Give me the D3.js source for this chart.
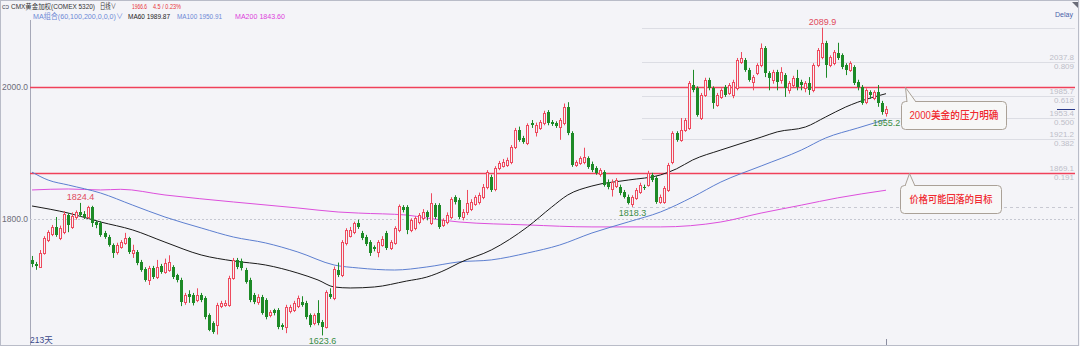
<!DOCTYPE html>
<html>
<head>
<meta charset="utf-8">
<script src="https://cdn.jsdelivr.net/npm/d3@7"></script>
<style>
  html, body { margin: 0; padding: 0; background: #f4f4f8; }
  svg { display: block; }
  text { font-family: "Liberation Sans", "Noto Sans CJK SC", sans-serif; }
  .hdr text { font-family: "Liberation Sans Narrow", "Liberation Sans", "Noto Sans CJK SC", sans-serif; }
</style>
</head>
<body>
<svg id="chart" width="1080" height="346"></svg>
<script>
// daily OHLC, 213 sessions
const opens = [
  1738,1732,1727,1749,1768,1778,1788,1771,1780,1806, 1788,1803,1811,1808,1803,1818,1796,1794,1779,1773,
  1761,1750,1758,1764,1771,1749,1750,1735,1724,1708, 1726,1712,1729,1720,1722,1727,1715,1708,1674,1686,
  1685,1677,1685,1680,1654,1642,1639,1668,1670,1670, 1711,1738,1736,1723,1708,1685,1674,1682,1677,1655,
  1662,1662,1639,1636,1660,1662,1668,1674,1673,1654, 1642,1657,1644,1637,1686,1680,1722,1715,1763,1775,
  1780,1794,1779,1773,1765,1757,1750,1761,1779,1756, 1764,1783,1818,1818,1783,1786,1795,1801,1810,1794,
  1821,1821,1791,1795,1803,1833,1829,1803,1810,1815, 1823,1826,1834,1848,1864,1845,1877,1881,1882,1886,
  1909,1935,1923,1915,1945,1932,1938,1945,1962,1947, 1945,1939,1945,1970,1930,1882,1885,1886,1892,1884,
  1877,1868,1871,1856,1845,1850,1849,1841,1834,1822, 1832,1841,1849,1852,1867,1862,1826,1826,1844,1886,
  1930,1920,1935,1938,2003,1998,1953,1988,2011,1998, 1973,1985,2000,1991,1988,1998,2038,2041,2026,2008,
  2021,2033,2059,2021,2011,2023,2010,2018,1995,2003, 2014,2008,1998,2006,1995,2033,2045,2067,2033,2036,
  2051,2048,2033,2026,2030,2008,2000,1977,1992,1983, 1992,1976,1960
];
const highs = [
  1744,1735,1753,1774,1783,1791,1803,1790,1812,1809, 1810,1813,1824.4,1812,1820,1820,1798,1797,1782,1776,
  1763,1764,1768,1779,1773,1761,1753,1738,1727,1729, 1729,1738,1732,1740,1745,1730,1717,1711,1688,1692,
  1688,1695,1688,1683,1657,1645,1673,1676,1677,1714, 1741,1741,1740,1726,1711,1688,1686,1685,1680,1662,
  1664,1665,1642,1670,1670,1676,1684,1683,1676,1657, 1657,1677,1647,1692,1695,1728,1734,1768,1786,1788,
  1796,1799,1782,1776,1768,1760,1768,1774,1782,1768, 1789,1822,1821,1821,1801,1804,1809,1815,1813,1839,
  1824,1824,1801,1810,1833,1836,1832,1815,1844,1830, 1836,1840,1853,1874,1867,1880,1888,1891,1893,1912,
  1938,1940,1926,1945,1950,1946,1950,1964,1965,1950, 1948,1953,1975,1977,1933,1889,1895,1908,1895,1887,
  1880,1877,1874,1860,1860,1862,1852,1844,1837,1836, 1847,1855,1852,1873,1870,1865,1837,1850,1885,1933,
  1933,1953,1953,2009,2026,2001,1991,2014,2014,2001, 1991,1998,2003,2006,2011,2044,2053,2044,2029,2018,
  2036,2066,2062,2024,2026,2026,2030,2021,2009,2017, 2026,2011,2009,2015,2036,2059,2089.9,2070,2048,2056,
  2067,2051,2036,2039,2033,2011,2003,1998,1995,1995, 2003,1979,1971
];
const lows = [
  1727,1723,1726,1746,1765,1774,1773,1768,1777,1780, 1785,1799,1803,1800,1800,1788,1786,1773,1770,1758,
  1741,1746,1755,1761,1747,1741,1730,1720,1705,1700, 1709,1709,1717,1717,1720,1709,1704,1668,1670,1673,
  1669,1674,1674,1648,1630,1626,1625,1665,1667,1667, 1708,1724,1722,1702,1674,1671,1670,1655,1648,1651,
  1654,1633,1632,1627,1657,1659,1665,1667,1648,1636, 1639,1639,1623.6,1634,1679,1677,1712,1712,1760,1772,
  1777,1785,1768,1759,1744,1751,1742,1758,1753,1753, 1761,1780,1810,1777,1780,1783,1792,1798,1798,1791,
  1800,1785,1788,1792,1800,1822,1800,1798,1806,1812, 1820,1822,1830,1845,1841,1842,1874,1878,1879,1883,
  1906,1917,1914,1912,1938,1925,1935,1942,1942,1941, 1938,1920,1942,1927,1879,1879,1882,1883,1876,1871,
  1867,1864,1849,1845,1834,1847,1836,1831,1822,1818.3, 1829,1838,1844,1849,1856,1823,1823,1823,1841,1883,
  1917,1917,1932,1935,1992,1955,1950,1985,1995,1967, 1970,1982,1985,1988,1983,1995,2035,2023,2008,1995,
  2018,2030,2015,1995,2005,1995,2005,1985,1990,2000, 1995,1995,1992,1988,1992,2030,2042,2014,2030,2033,
  2041,2027,2018,2023,2003,1995,1973,1974,1982,1980, 1970,1958,1955.2
];
const closes = [
  1732,1729,1749,1771,1780,1788,1776,1786,1808,1791, 1805,1810,1806,1803,1818,1794,1791,1776,1773,1761,
  1749,1761,1765,1771,1750,1753,1733,1723,1708,1726, 1712,1727,1720,1733,1735,1712,1708,1674,1685,1682,
  1673,1685,1677,1651,1632,1629,1670,1673,1673,1711, 1738,1727,1726,1705,1677,1674,1682,1658,1651,1659,
  1658,1636,1636,1667,1667,1673,1680,1670,1651,1639, 1654,1642,1636,1689,1682,1725,1715,1765,1783,1783,
  1794,1788,1771,1762,1748,1754,1765,1770,1756,1765, 1786,1819,1814,1783,1798,1801,1806,1810,1803,1824,
  1803,1788,1798,1806,1830,1826,1803,1811,1824,1826, 1833,1836,1849,1871,1844,1877,1885,1886,1889,1909,
  1935,1920,1917,1942,1942,1942,1947,1961,1945,1944, 1941,1950,1970,1930,1882,1886,1892,1894,1879,1874,
  1870,1874,1852,1848,1856,1859,1840,1834,1825,1833, 1844,1851,1847,1870,1859,1826,1833,1847,1882,1930,
  1920,1935,1950,2006,1995,1958,1988,2011,1998,1976, 1988,1995,1988,2003,2008,2041,2044,2026,2011,2015,
  2033,2059,2021,2014,2023,2008,2022,1999,2006,2014, 2000,2003,2006,1995,2033,2056,2067,2033,2045,2053,
  2044,2030,2026,2036,2006,2000,1976,1995,1988,1992, 1976,1962.1,1966.6
];

// moving averages: [session index, value]
const ma60 = [[0,1819.7],[9,1809],[17,1795.5],[25,1783.4],[33,1765],[42,1745.5],[50,1736.4],[58,1730.3],
  [66,1718],[71,1707.6],[75,1697],[79,1695.5],[85,1697],[93,1706],[98,1712],[103,1724],[106,1733.4],
  [114,1753],[123,1788],[129,1818],[133,1836.4],[139,1850],[148,1859],[156,1866.7],[160,1876],[164,1889.4],
  [171,1904.5],[181,1924],[185,1932],[192,1939.4],[197,1954.5],[202,1969.7],[205,1977],[212,1989.87]];
const ma100 = [[0,1871],[4,1859],[9,1851.5],[17,1839.4],[25,1821],[33,1803],[42,1786.4],[50,1772.7],
  [58,1763.7],[66,1750],[75,1730.3],[81,1725.8],[90,1722.7],[98,1727.3],[106,1735],[114,1738],[123,1748.5],
  [131,1760.6],[139,1778.8],[148,1795.5],[156,1810.6],[164,1833.3],[171,1856],[181,1880.3],[191,1904.5],
  [197,1922.7],[205,1937.9],[212,1950.91]];
const ma200 = [[0,1844],[9,1845.5],[17,1844],[22,1845],[33,1836.4],[50,1825.8],[66,1816.7],[76,1810.6],
  [81,1809],[93,1806],[98,1801.5],[106,1795.5],[123,1791],[139,1788],[156,1788],[171,1795.5],[181,1809],
  [191,1821],[200,1832],[212,1843.6]];

const maNames = ["MA60", "MA100", "MA200"];
const maLast = [1989.87, 1950.91, 1843.60];

const yTicks = [1800, 2000];
const redLevels = [2000, 1869.7];
const fibRatios = [0.809, 0.618, 0.5, 0.382, 0.191];
const fibPrices = [2037.8, 1985.7, 1953.4, 1921.2, 1869.1];
const fibHigh = 2089.9, fibLow = 1818.3;

// labelled extremes: [session index, "high" | "low"]
const marks = [[12, "high"], [72, "low"], [149, "low"], [196, "high"], [212, "low"]];

const notes = [
  { text: "2000美金的压力明确", price: 2000 },
  { text: "价格可能回落的目标", price: 1869.7 }
];

const W = 1080, H = 346;
const pLeft = 30, pRight = 1075, pTop = 20, pBottom = 345;
const upColor = "#ee4a5e", downColor = "#1d8a27";

const svg = d3.select("#chart");
const n = opens.length;

const x = d3.scaleBand().domain(d3.range(n)).range([pLeft, 888]);
const y = d3.scaleLinear().domain([1600, 2100]).range([351, 21]);
const cx = i => Math.round(x(i) + x.bandwidth() / 2);
const py = v => Math.round(y(v)) + 0.5;

// frame
svg.append("rect").attr("width", W).attr("height", H).attr("fill", "#f4f4f8");
svg.append("rect").attr("x", 0.5).attr("y", 0.5).attr("width", W - 2).attr("height", H - 1)
  .attr("fill", "none").attr("stroke", "#b9bcc8");
svg.append("line").attr("x1", pLeft + 0.5).attr("x2", pLeft + 0.5).attr("y1", pTop).attr("y2", pBottom)
  .attr("stroke", "#a6a8b8");

// grid at ticks
svg.selectAll("line.grid").data(yTicks).join("line").attr("class", "grid")
  .attr("x1", pLeft).attr("x2", pRight)
  .attr("y1", py).attr("y2", py)
  .attr("stroke", "#c6c8d2").attr("stroke-dasharray", "2,2");

svg.selectAll("text.ytick").data(yTicks).join("text").attr("class", "ytick")
  .attr("x", 28).attr("y", d => y(d) + 3)
  .attr("text-anchor", "end").attr("font-size", 8.5).attr("fill", "#6c6c78")
  .text(d => d3.format(".1f")(d));

// fibonacci lines
const fibX0 = cx(149) + 10;
svg.selectAll("line.fib").data([fibHigh].concat(fibPrices)).join("line").attr("class", "fib")
  .attr("x1", fibX0).attr("x2", pRight)
  .attr("y1", py).attr("y2", py)
  .attr("stroke", "#dcdde4");
svg.append("line").attr("x1", cx(149) - 12).attr("x2", pRight)
  .attr("y1", py(fibLow)).attr("y2", py(fibLow))
  .attr("stroke", "#c8c9d2").attr("stroke-dasharray", "3,3");
svg.selectAll("text.fibv").data(fibPrices).join("text").attr("class", "fibv")
  .attr("x", pRight - 1).attr("y", d => y(d) - 2)
  .attr("text-anchor", "end").attr("font-size", 8).attr("fill", "#bdbec8")
  .text(d => d3.format(".1f")(d));
svg.selectAll("text.fibr").data(fibRatios).join("text").attr("class", "fibr")
  .attr("x", pRight - 1).attr("y", (d, i) => y(fibPrices[i]) + 7)
  .attr("text-anchor", "end").attr("font-size", 8).attr("fill", "#bdbec8")
  .text(d => d3.format(".3f")(d));

// red horizontal levels
svg.selectAll("line.lvl").data(redLevels).join("line").attr("class", "lvl")
  .attr("x1", pLeft).attr("x2", pRight)
  .attr("y1", py).attr("y2", py)
  .style("stroke", "#f0405a").style("stroke-width", 1.3);

// moving averages
const maLine = d3.line().x(d => x(d[0]) + x.bandwidth() / 2).y(d => y(d[1])).curve(d3.curveMonotoneX);
[[ma200, "#dd4fdc"], [ma100, "#5d7fd0"], [ma60, "#1a1a1a"]].forEach(([d, c]) => {
  svg.append("path").attr("d", maLine(d)).attr("fill", "none").attr("stroke", c).attr("stroke-width", 1);
});

// candles
const g = svg.append("g");
d3.range(n).forEach(i => {
  const o = opens[i], c = closes[i], hi = highs[i], lo = lows[i];
  const xc = cx(i);
  const up = c >= o;
  const yTop = Math.round(y(Math.max(o, c))), yBot = Math.round(y(Math.min(o, c)));
  const col = up ? upColor : downColor;
  if (up) {
    g.append("line").attr("x1", xc + 0.5).attr("x2", xc + 0.5).attr("y1", y(hi)).attr("y2", yTop)
      .attr("stroke", col);
    g.append("line").attr("x1", xc + 0.5).attr("x2", xc + 0.5).attr("y1", yBot).attr("y2", y(lo))
      .attr("stroke", col);
    g.append("rect").attr("x", xc - 0.5).attr("y", yTop + 0.5)
      .attr("width", 2).attr("height", Math.max(yBot - yTop, 1))
      .attr("fill", "#f4f4f8").attr("stroke", col);
  } else {
    g.append("line").attr("x1", xc + 0.5).attr("x2", xc + 0.5).attr("y1", y(hi)).attr("y2", y(lo))
      .attr("stroke", col);
    g.append("rect").attr("x", xc - 1).attr("y", yTop)
      .attr("width", 3).attr("height", Math.max(yBot - yTop, 1)).attr("fill", col);
  }
});

// extreme labels
svg.selectAll("text.mark").data(marks).join("text").attr("class", "mark")
  .attr("x", d => cx(d[0]) + 0.5)
  .attr("y", d => d[1] === "high" ? y(highs[d[0]]) - 3 : y(lows[d[0]]) + 9)
  .attr("text-anchor", "middle").attr("font-size", 9)
  .attr("fill", d => d[1] === "high" ? "#e04a5c" : "#3b8d45")
  .text(d => d3.format(".1f")(d[1] === "high" ? highs[d[0]] : lows[d[0]]));

// last price marker on right edge
svg.append("line").attr("x1", 1057).attr("x2", pRight)
  .attr("y1", py(closes[n - 1])).attr("y2", py(closes[n - 1]))
  .attr("stroke", "#2a3a8a");
svg.append("line").attr("x1", cx(n - 1) + 0.5).attr("x2", cx(n - 1) + 0.5)
  .attr("y1", 339).attr("y2", pBottom).attr("stroke", "#8c8ea0");

// callouts
const boxes = [
  { x: 901, y: 101, w: 105, h: 28, apex: 905, b0: 907, b1: 916, fs: 10.5, tw: 89 },
  { x: 900, y: 185, w: 101, h: 28, apex: 909, b0: 905, b1: 915, fs: 10, tw: 83 }
];
notes.forEach((nt, k) => {
  const b = boxes[k];
  const ay = py(nt.price);
  svg.append("rect").attr("x", b.x + 0.5).attr("y", b.y + 0.5).attr("width", b.w).attr("height", b.h)
    .attr("rx", 4).attr("fill", "#f7f7f7").attr("stroke", "#aaa197");
  svg.append("path").attr("d", `M${b.b0},${b.y + 1}L${b.apex + 0.5},${ay}L${b.b1},${b.y + 1}`)
    .attr("fill", "#f7f7f7").attr("stroke", "#aaa197");
  svg.append("text").attr("x", b.x + b.w / 2 + 0.5).attr("y", b.y + b.h / 2 + b.fs * 0.38)
    .attr("text-anchor", "middle").attr("font-size", b.fs).attr("fill", "#f02a30")
    .attr("font-weight", 500)
    .attr("textLength", b.tw).attr("lengthAdjust", "spacingAndGlyphs")
    .text(nt.text);
});

// header in a narrow face, fitted to the reference's widths
const hdr = svg.append("g").attr("class", "hdr").attr("font-size", 7.5);
const hText = (tx, ty, w, col, s, fs) => hdr.append("text").attr("x", tx).attr("y", ty).attr("fill", col)
  .attr("font-size", fs || 7.5)
  .attr("textLength", w).attr("lengthAdjust", "spacingAndGlyphs").text(s);
hText(2, 8.5, 7, "#55576a", "cɔ");
hText(11, 8.5, 84, "#333", "CMX黄金加权(COMEX 5320)", 6.9);
hText(100, 8.5, 16, "#333", "日线∨");
hText(132, 8.5, 15, "#e8353a", d3.format(".1f")(closes[n - 1]));
hText(153, 8.5, 28, "#e8353a",
  d3.format(".1f")(closes[n - 1] - closes[n - 2]) + " / " +
  d3.format(".2f")((closes[n - 1] / closes[n - 2] - 1) * 100) + "%");
hText(33, 18.5, 90, "#6c89d6", "MA组合(60,100,200,0,0,0)∨");
const maCols = ["#222", "#6c89d6", "#dd3fdc"];
const maX = [128, 177, 235];
const maW = [42, 45, 50];
maNames.forEach((nm, k) => hText(maX[k], 18.5, maW[k], maCols[k], nm + " " + d3.format(".2f")(maLast[k])));

svg.append("text").attr("x", 1055).attr("y", 17).attr("font-size", 7).attr("fill", "#4a62a8").text("Delay");
svg.append("path").attr("d", "M1072,2L1078,2L1078,8Z").attr("fill", "#6a6c78");

svg.append("text").attr("x", 30).attr("y", 343).attr("font-size", 8.5).attr("fill", "#3a4a8a").text("213天");
</script>
</body>
</html>
